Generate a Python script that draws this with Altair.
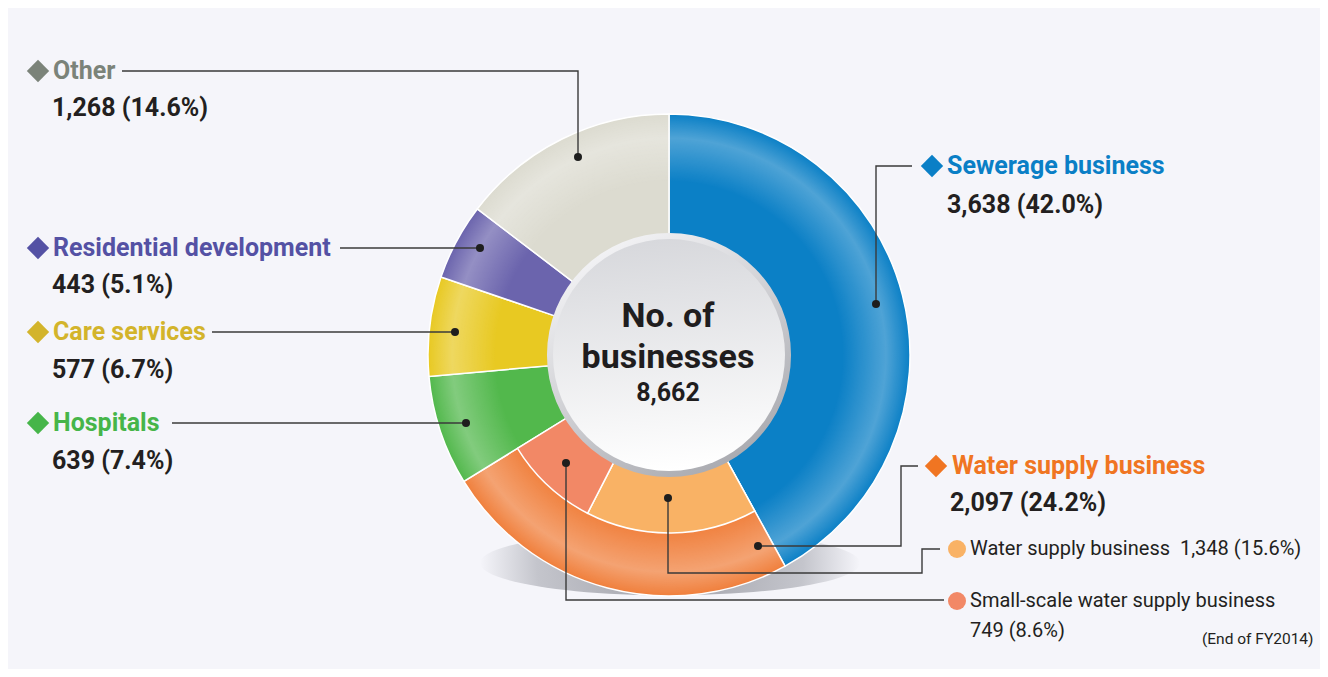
import math
import altair as alt
import pandas as pd

# ---------------- data ----------------
categories = ["Sewerage business", "Water supply business", "Hospitals",
              "Care services", "Residential development", "Other"]
values = [3638, 2097, 639, 577, 443, 1268]
percents = ["42.0%", "24.2%", "7.4%", "6.7%", "5.1%", "14.6%"]

sub_categories = ["Water supply business", "Small-scale water supply business"]
sub_values = [1348, 749]
sub_percents = ["15.6%", "8.6%"]

center_title = ["No. of", "businesses"]
total_label = "8,662"
note_text = "(End of FY2014)"

# ---------------- styles ----------------
slice_colors = ["#0b80c6", "#f07f3c", "#52b84c", "#e8c922", "#6b64ad", "#dcdbd0"]
label_colors = ["#0a7fc6", "#f07522", "#46b549", "#d3b42b", "#5451a4", "#7b8379"]
sub_colors = ["#f9b265", "#f28866"]
BG = "#f5f5fa"
FONT = "Roboto"

# ---------------- layout (page pixel frame) ----------------
CX, CY = 669, 355
R_OUT, R_MID, R_IN = 241, 178, 120

label_pos = {  # (x, y) of label line and value line
    "Sewerage business": ((947, 166), (947, 205)),
    "Water supply business": ((952, 466), (950, 503)),
    "Hospitals": ((53, 423), (52, 461)),
    "Care services": ((53, 332), (52, 370)),
    "Residential development": ((53, 248), (52, 285)),
    "Other": ((53, 71), (52, 108)),
}
diamond_pos = {
    "Sewerage business": (932, 166),
    "Water supply business": (936, 466),
    "Hospitals": (38, 423),
    "Care services": (38, 332),
    "Residential development": (38, 248),
    "Other": (38, 71),
}
leaders = {
    "Other": [(122, 71), (578, 71), (578, 157)],
    "Residential development": [(340, 248), (480, 248)],
    "Care services": [(212, 332), (455, 332)],
    "Hospitals": [(172, 423), (466, 423)],
    "Sewerage business": [(876, 304), (876, 166), (912, 166)],
    "Water supply business": [(758, 546), (901, 546), (901, 466), (918, 466)],
    "sub0": [(668, 498), (668, 573), (922, 573), (922, 549), (940, 549)],
    "sub1": [(566, 463), (566, 600), (944, 600)],
}
dot_at_end = ["Other", "Residential development", "Care services", "Hospitals"]
sub_marker_pos = [(957, 549), (957, 601)]
sub_text_pos = [(970, 549), (970, 601), (970, 631)]
note_pos = (1202, 639)
center_text_y = [317, 358, 393]

# ---------------- tables ----------------
TOTAL = sum(values)
starts, acc = [], 0
for v in values:
    starts.append(acc)
    acc += v
ring_df = pd.DataFrame({
    "cat": categories, "value": values,
    "start": starts, "end": [s + v for s, v in zip(starts, values)],
    "color": slice_colors,
})
w_start = starts[categories.index("Water supply business")]
sub_starts, acc = [], w_start
for v in sub_values:
    sub_starts.append(acc)
    acc += v
sub_df = pd.DataFrame({
    "cat": sub_categories, "value": sub_values, "start": sub_starts,
    "end": [s + v for s, v in zip(sub_starts, sub_values)], "color": sub_colors,
})

xs = alt.Scale(domain=[8, 1320], nice=False, zero=False)
ys = alt.Scale(domain=[8, 669], nice=False, zero=False, reverse=True)
ts = alt.Scale(domain=[0, TOTAL], range=[0, 2 * math.pi])

cx = alt.XDatum(CX, scale=xs, axis=None)
cy = alt.YDatum(CY, scale=ys, axis=None)
one = pd.DataFrame({"k": [0]})

# soft shadow under the donut (ellipse)
shadow = alt.Chart(one).mark_point(
    shape="M -1 0 A 1 0.17 0 1 0 1 0 A 1 0.17 0 1 0 -1 0 Z",
    filled=True, size=380 ** 2, opacity=1, strokeWidth=0,
    fill=alt.RadialGradient(gradient="radial", x1=0.5, y1=0.5, r1=0, x2=0.5, y2=0.5, r2=0.5,
                            stops=[alt.GradientStop(color="#9fa0a8", offset=0),
                                   alt.GradientStop(color="#c4c5cc", offset=0.7),
                                   alt.GradientStop(color=BG, offset=1)]),
).encode(x=alt.XDatum(670, scale=xs, axis=None), y=alt.YDatum(563, scale=ys, axis=None))

ring = alt.Chart(ring_df).mark_arc(innerRadius=R_IN, outerRadius=R_OUT,
                                   stroke="white", strokeWidth=1.5).encode(
    x=cx, y=cy,
    theta=alt.Theta("start:Q", scale=ts, stack=False),
    theta2="end:Q",
    color=alt.Color("color:N", scale=None),
)

highlight = alt.Chart(one).mark_arc(
    innerRadius=R_IN, outerRadius=R_OUT, theta=0, theta2=2 * math.pi,
    fill=alt.RadialGradient(gradient="radial", x1=0.5, y1=0.5, r1=0, x2=0.5, y2=0.5, r2=0.5,
                            stops=[alt.GradientStop(color="rgba(255,255,255,0)", offset=0.72),
                                   alt.GradientStop(color="rgba(255,255,255,0.28)", offset=0.9),
                                   alt.GradientStop(color="rgba(255,255,255,0)", offset=1)]),
).encode(x=cx, y=cy)

sub = alt.Chart(sub_df).mark_arc(innerRadius=R_IN, outerRadius=R_MID,
                                 stroke="white", strokeWidth=1.5).encode(
    x=cx, y=cy,
    theta=alt.Theta("start:Q", scale=ts, stack=False),
    theta2="end:Q",
    color=alt.Color("color:N", scale=None),
)

rim = alt.Chart(one).mark_arc(
    innerRadius=0, outerRadius=122, theta=0, theta2=2 * math.pi,
    fill=alt.LinearGradient(gradient="linear", x1=0.2, y1=0, x2=0.8, y2=1,
                            stops=[alt.GradientStop(color="#f7f7f9", offset=0),
                                   alt.GradientStop(color="#a5a6ac", offset=1)]),
).encode(x=cx, y=cy)
disc = alt.Chart(one).mark_arc(
    innerRadius=0, outerRadius=116, theta=0, theta2=2 * math.pi,
    fill=alt.LinearGradient(gradient="linear", x1=0.4, y1=0, x2=0.5, y2=1,
                            stops=[alt.GradientStop(color="#d7d8dc", offset=0),
                                   alt.GradientStop(color="#ffffff", offset=1)]),
).encode(x=cx, y=cy)

# leader lines
lrows = []
for g, pts in leaders.items():
    for i, (px, py) in enumerate(pts):
        lrows.append({"g": g, "i": i, "x": px, "y": py})
lead_df = pd.DataFrame(lrows)
lines = alt.Chart(lead_df).mark_line(color="#3a3a3a", strokeWidth=1.4).encode(
    x=alt.X("x:Q", scale=xs, axis=None), y=alt.Y("y:Q", scale=ys, axis=None),
    detail="g:N", order="i:Q",
)
dot_df = pd.DataFrame([{"x": (pts[-1] if g in dot_at_end else pts[0])[0],
                        "y": (pts[-1] if g in dot_at_end else pts[0])[1]}
                       for g, pts in leaders.items()])
dots = alt.Chart(dot_df).mark_point(filled=True, size=64, color="#1e1e1e", opacity=1).encode(
    x=alt.X("x:Q", scale=xs, axis=None), y=alt.Y("y:Q", scale=ys, axis=None))

# diamonds & labels
dia_df = pd.DataFrame({"x": [diamond_pos[c][0] for c in categories],
                       "y": [diamond_pos[c][1] for c in categories],
                       "color": label_colors})
diamonds = alt.Chart(dia_df).mark_point(shape="diamond", filled=True, size=500, opacity=1).encode(
    x=alt.X("x:Q", scale=xs, axis=None), y=alt.Y("y:Q", scale=ys, axis=None),
    color=alt.Color("color:N", scale=None))

lab_rows = []
for c, v, p, col in zip(categories, values, percents, label_colors):
    (lx, ly), (vx, vy) = label_pos[c]
    lab_rows.append({"x": lx, "y": ly, "t": c, "color": col})
    lab_rows.append({"x": vx, "y": vy, "t": f"{v:,} ({p})", "color": "#231f20"})
lab_df = pd.DataFrame(lab_rows)
labels = alt.Chart(lab_df).mark_text(align="left", baseline="middle", font=FONT,
                                     fontWeight="bold", fontSize=25).encode(
    x=alt.X("x:Q", scale=xs, axis=None), y=alt.Y("y:Q", scale=ys, axis=None),
    text="t:N", color=alt.Color("color:N", scale=None))

sm_df = pd.DataFrame({"x": [p[0] for p in sub_marker_pos], "y": [p[1] for p in sub_marker_pos],
                      "color": sub_colors})
sub_markers = alt.Chart(sm_df).mark_point(shape="circle", filled=True, size=324, opacity=1).encode(
    x=alt.X("x:Q", scale=xs, axis=None), y=alt.Y("y:Q", scale=ys, axis=None),
    color=alt.Color("color:N", scale=None))

sub_texts = [f"{sub_categories[0]} \u00a0{sub_values[0]:,} ({sub_percents[0]})",
             sub_categories[1], f"{sub_values[1]:,} ({sub_percents[1]})"]
st_df = pd.DataFrame({"x": [p[0] for p in sub_text_pos], "y": [p[1] for p in sub_text_pos],
                      "t": sub_texts})
sub_labels = alt.Chart(st_df).mark_text(align="left", baseline="middle", font=FONT,
                                        fontSize=20, color="#231f20").encode(
    x=alt.X("x:Q", scale=xs, axis=None), y=alt.Y("y:Q", scale=ys, axis=None), text="t:N")

note = alt.Chart(pd.DataFrame({"x": [note_pos[0]], "y": [note_pos[1]], "t": [note_text]})).mark_text(
    align="left", baseline="middle", font=FONT, fontSize=15.5, color="#231f20").encode(
    x=alt.X("x:Q", scale=xs, axis=None), y=alt.Y("y:Q", scale=ys, axis=None), text="t:N")

ct_df = pd.DataFrame({"x": [CX - 1] * 3, "y": center_text_y,
                      "t": center_title + [total_label], "s": [34, 34, 25]})
center = alt.Chart(ct_df).mark_text(align="center", baseline="middle", font=FONT,
                                    fontWeight="bold", color="#1f1d1e").encode(
    x=alt.X("x:Q", scale=xs, axis=None), y=alt.Y("y:Q", scale=ys, axis=None),
    text="t:N", size=alt.Size("s:Q", scale=None))

chart = alt.layer(shadow, ring, highlight, sub, rim, disc, lines, dots, diamonds, labels,
                  sub_markers, sub_labels, note, center).properties(
    width=1312, height=661, padding=0,
    autosize=alt.AutoSizeParams(type="none"),
).configure(background=BG).configure_view(stroke=None)

chart.save("out.html", embed_options={"renderer": "svg", "actions": False})
